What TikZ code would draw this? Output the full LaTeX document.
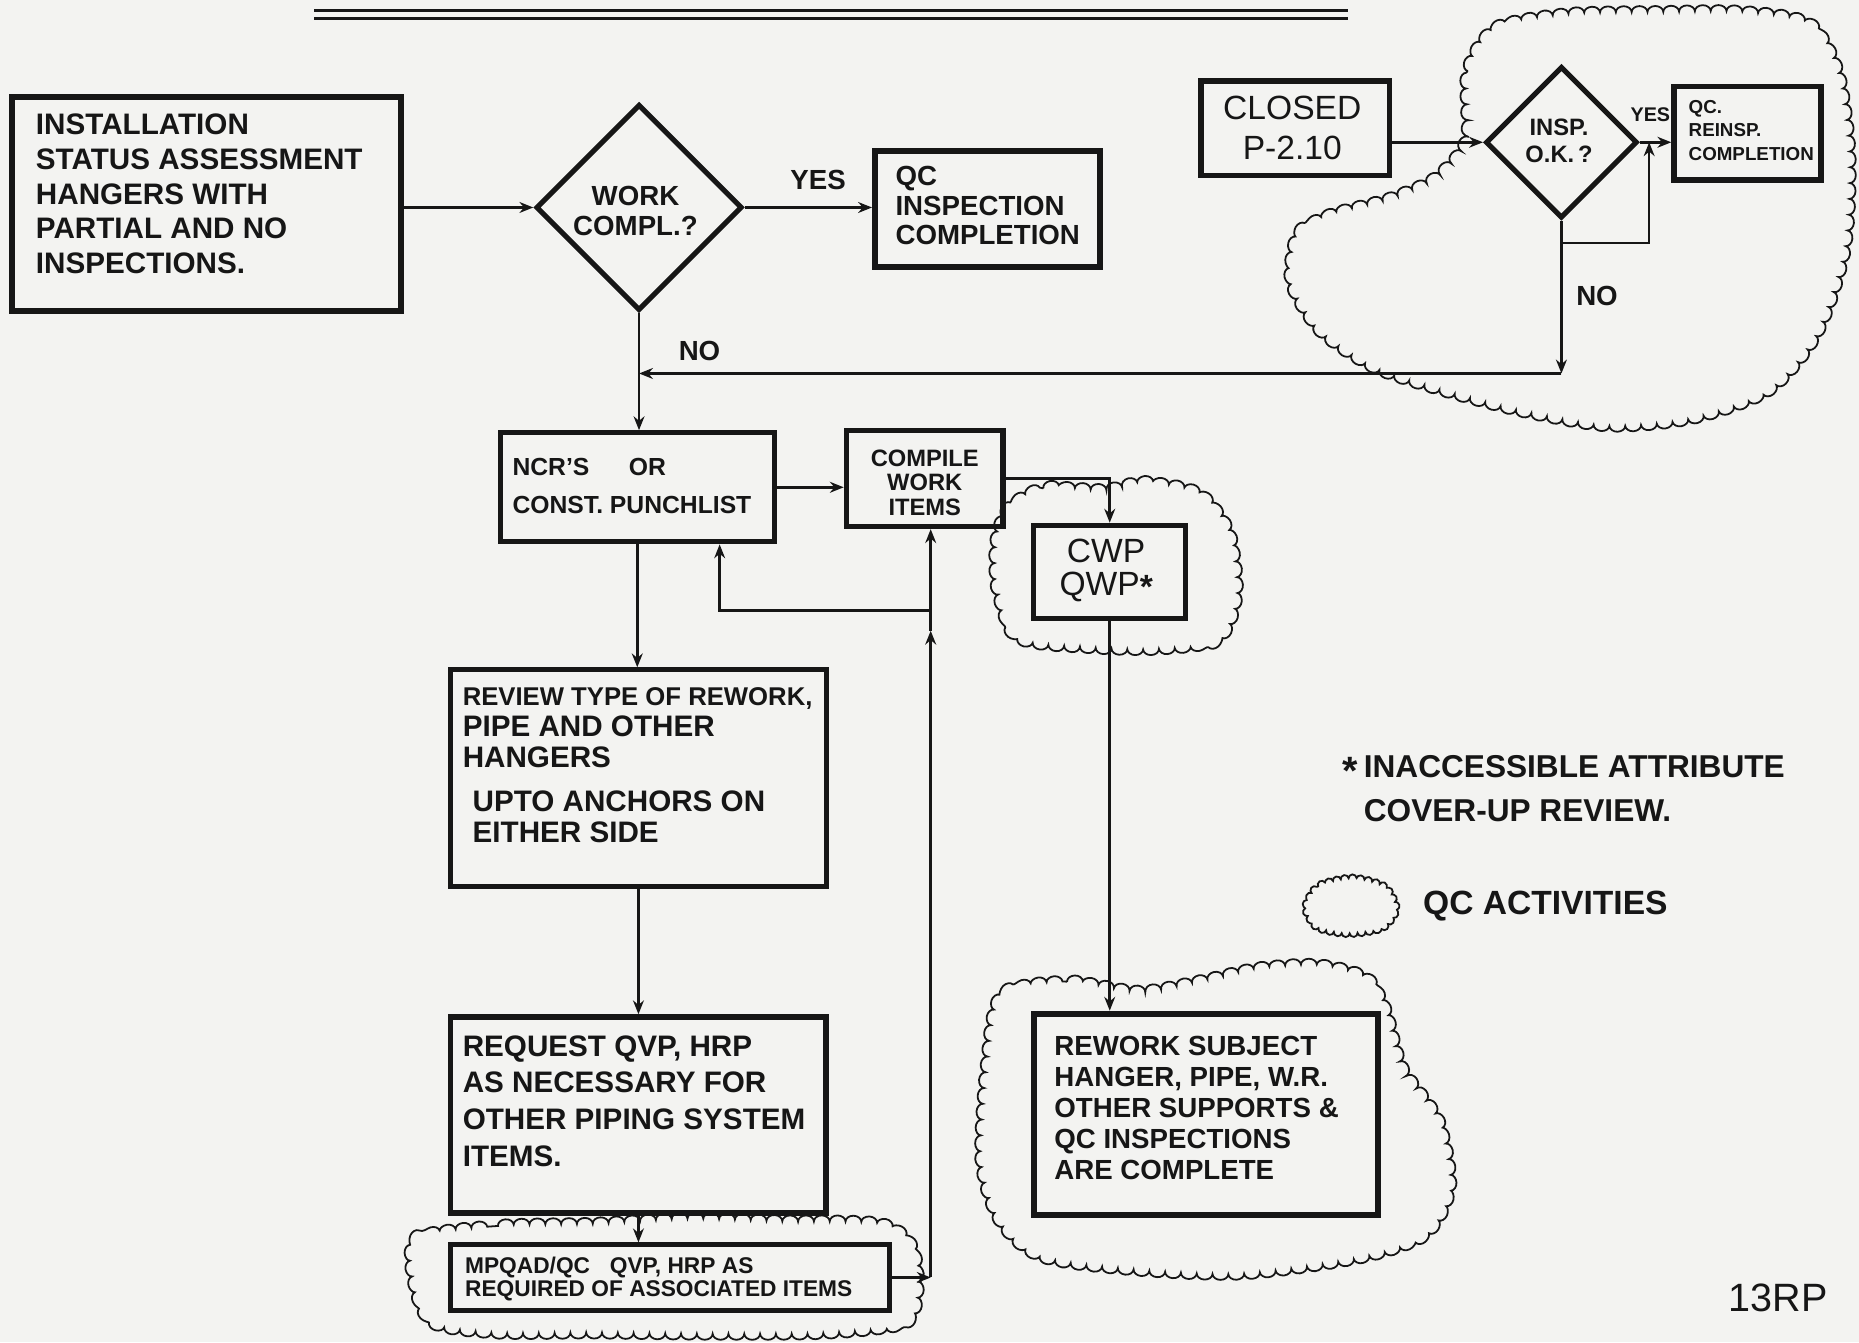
\documentclass[tikz,border=0pt]{standalone}
\usepackage{fontspec}
\setmainfont{Liberation Sans}
\usetikzlibrary{fit,shapes.geometric,arrows.meta,decorations.pathmorphing}
\definecolor{paper}{RGB}{243,243,241}
\definecolor{ink}{RGB}{22,22,22}
\tikzset{
  bx/.style={draw=ink, line width=#1, inner sep=0pt},
  bx/.default=2.8pt,
  dia/.style={diamond, draw=ink, line width=2.6pt, inner sep=0pt, aspect=1},
  txt/.style={inner sep=0pt, text=ink, align=left, anchor=north west},
  ctxt/.style={inner sep=0pt, text=ink, align=center, anchor=center},
  lbl/.style={inner sep=0pt, text=ink, font=\bfseries\fontsize{14}{14}\selectfont},
  conn/.style={draw=ink, line width=1.3pt},
  arr/.style={conn, -{Stealth[length=7pt,width=5.5pt]}},
  cloudl/.style={draw=ink, line width=0.9pt, decorate,
    decoration={bumps, segment length=16pt, amplitude=3pt}},
}
\begin{document}
\begin{tikzpicture}[x=0.6pt,y=-0.6pt]
\path[fill=paper] (0,0) rectangle (1568,1132);
\useasboundingbox (0,0) rectangle (1568,1132);

% header double rule
\draw[ink, line width=1.6pt] (265,9) -- (1137,9) (265,15.5) -- (1137,15.5);

% clouds (QC activities)
\draw[cloudl] plot[smooth cycle] coordinates {(1236,118) (1238,60) (1262,24) (1320,12) (1400,10) (1470,10) (1525,20) (1550,60) (1560,130) (1556,210) (1533,280) (1493,328) (1430,352) (1360,359) (1290,348) (1220,330) (1160,310) (1115,280) (1090,240) (1094,200) (1120,182) (1170,168) (1210,150)};
\draw[cloudl] plot[smooth cycle] coordinates {(850,430) (880,412) (930,413) (965,407) (1010,416) (1036,448) (1043,500) (1028,538) (980,547) (920,546) (860,538) (842,500) (840,460)};
\draw[cloudl] plot[smooth cycle] coordinates {(352,1045) (420,1034) (500,1032) (580,1028) (660,1030) (740,1032) (768,1050) (774,1085) (763,1115) (700,1124) (600,1125) (500,1124) (420,1124) (367,1116) (350,1085)};
\draw[cloudl] plot[smooth cycle] coordinates {(845,840) (900,828) (960,836) (1010,828) (1060,817) (1110,814) (1150,824) (1168,850) (1183,900) (1213,945) (1223,1000) (1203,1040) (1150,1060) (1050,1074) (960,1071) (880,1060) (844,1030) (828,980) (832,900)};
\draw[cloudl, decoration={bumps, segment length=8pt, amplitude=2pt}] plot[smooth cycle] coordinates {(1102,766) (1112,748) (1140,741) (1167,748) (1177,766) (1166,782) (1138,787) (1112,782)};

% boxes
\node[bx=3pt, fit={(10,82) (338,262)}] (A) {};
\node[dia, minimum width=174*0.6pt, minimum height=174*0.6pt] (B) at (539,175) {};
\node[bx=3pt, fit={(738,127) (928,225)}] (C) {};
\node[bx=3pt, fit={(1013,68) (1172,148)}] (D) {};
\node[dia, minimum width=128*0.6pt, minimum height=128*0.6pt] (E) at (1317,120) {};
\node[bx=2.8pt, fit={(1412,73) (1536,152)}] (F) {};
\node[bx=2.6pt, fit={(422,365) (653,457)}] (G) {};
\node[bx=2.8pt, fit={(714,363) (846,444)}] (H) {};
\node[bx=2.6pt, fit={(872,443) (1000,522)}] (I) {};
\node[bx=2.6pt, fit={(380,565) (697,748)}] (J) {};
\node[bx=3pt, fit={(380,858) (697,1023)}] (K) {};
\node[bx=2.6pt, fit={(380,1050) (750,1105)}] (L) {};
\node[bx=3pt, fit={(872,855) (1162,1025)}] (M) {};

% texts
\node[txt, font=\bfseries\fontsize{15}{17.5}\selectfont] (At) at (30,96) {INSTALLATION\\STATUS ASSESSMENT\\HANGERS WITH\\PARTIAL AND NO\\INSPECTIONS.};
\node[ctxt, font=\bfseries\fontsize{14}{15}\selectfont] (Bt) at (536,178) {WORK\\COMPL.?};
\node[txt, font=\bfseries\fontsize{14}{15}\selectfont] (Ct) at (755,140) {QC\\INSPECTION\\COMPLETION};
\node[ctxt, font=\fontsize{17}{20.4}\selectfont] (Dt) at (1090,108) {CLOSED\\P-2.10};
\node[ctxt, font=\bfseries\fontsize{12}{13.8}\selectfont] (Et) at (1315,119) {INSP.\\O.K.\,?};
\node[txt, font=\bfseries\fontsize{9.5}{12}\selectfont] (Ft) at (1424,84) {QC.\\REINSP.\\COMPLETION};
\node[txt, font=\bfseries\fontsize{12.5}{19.2}\selectfont] (Gt) at (432,386) {NCR'S\hspace{20pt}OR\\CONST. PUNCHLIST};
\node[ctxt, font=\bfseries\fontsize{12}{12.3}\selectfont] (Ht) at (780,407) {COMPILE\\WORK\\ITEMS};
\node[ctxt, font=\fontsize{17}{17}\selectfont] (It) at (933,481) {CWP\\QWP\raisebox{-0.1em}{\bfseries*}};
\node[txt, font=\bfseries\fontsize{15}{15.6}\selectfont] (Jt) at (390,580) {{\fontsize{13}{15.6}\selectfont REVIEW TYPE OF REWORK,}\\PIPE AND OTHER\\HANGERS\\[6.6pt]\hspace*{5pt}UPTO ANCHORS ON\\\hspace*{5pt}EITHER SIDE};
\node[txt, font=\bfseries\fontsize{15}{18.6}\selectfont] (Kt) at (390,873) {REQUEST QVP, HRP\\AS NECESSARY FOR\\OTHER PIPING SYSTEM\\ITEMS.};
\node[txt, font=\bfseries\fontsize{11.5}{11.4}\selectfont] (Lt) at (392,1060) {MPQAD/QC\hspace{10pt}QVP, HRP AS\\REQUIRED OF ASSOCIATED ITEMS};
\node[txt, font=\bfseries\fontsize{14}{15.6}\selectfont] (Mt) at (889,874) {REWORK SUBJECT\\HANGER, PIPE, W.R.\\OTHER SUPPORTS \&\\QC INSPECTIONS\\ARE COMPLETE};

% labels
\node[lbl] (yes1) at (690,152) {YES};
\node[lbl] (no1) at (590,296) {NO};
\node[lbl, font=\bfseries\fontsize{10}{10}\selectfont] (yes2) at (1392,97) {YES};
\node[lbl] (no2) at (1347,250) {NO};

% legend
\node[txt, font=\bfseries\fontsize{16}{22.2}\selectfont] (leg1) at (1150,637) {\llap{\raisebox{-0.2em}{\fontsize{20}{20}\selectfont *}\hspace{3pt}}INACCESSIBLE ATTRIBUTE\\COVER-UP REVIEW.};
\node[lbl, anchor=west, font=\bfseries\fontsize{17}{17}\selectfont] (leg2) at (1200,764) {QC ACTIVITIES};
\node[inner sep=0pt, text=ink, font=\fontsize{20}{20}\selectfont] (pg) at (1500,1095) {13RP};

% coordinates for connector bends
\coordinate (n1) at (1317,315);
\coordinate (n2) at (539,315);
\coordinate (b1) at (1317,205);
\coordinate (b2) at (1391,205);
\coordinate (b3) at (1391,120);
\coordinate (c3) at (785,1077.5);
\coordinate (c4) at (785,532);
\coordinate (c5) at (785,515);
\coordinate (c6) at (607,515);

% connectors
\draw[arr] (B.west -| A.east) -- (B.west);
\draw[arr] (B.east) -- (B.east -| C.west);
\draw[arr] (B.south) -- (B.south |- G.north);
\draw[arr] (E.west -| D.east) -- (E.west);
\draw[arr] (E.east) -- (E.east -| F.west);
\draw[arr] (E.south) -- (n1);
\draw[arr] (n1) -- (n2);
\draw[arr] (b1) -- (b2) -- (b3);
\draw[arr] (G.east) -- (G.east -| H.west);
\draw[arr] (H.east) -| (I.north);
\draw[arr] (G.south) -- (G.south |- J.north);
\draw[arr] (J.south) -- (K.north);
\draw[arr] (K.south) -- (K.south |- L.north);
\draw[arr] (L.east) -- (c3);
\draw[arr] (c3) -- (c4);
\draw[arr] (c4) -- (c4 |- H.south);
\draw[arr] (c5) -- (c6) -- (c6 |- G.south);
\draw[arr] (I.south) -- (I.south |- M.north);
\end{tikzpicture}
\end{document}
